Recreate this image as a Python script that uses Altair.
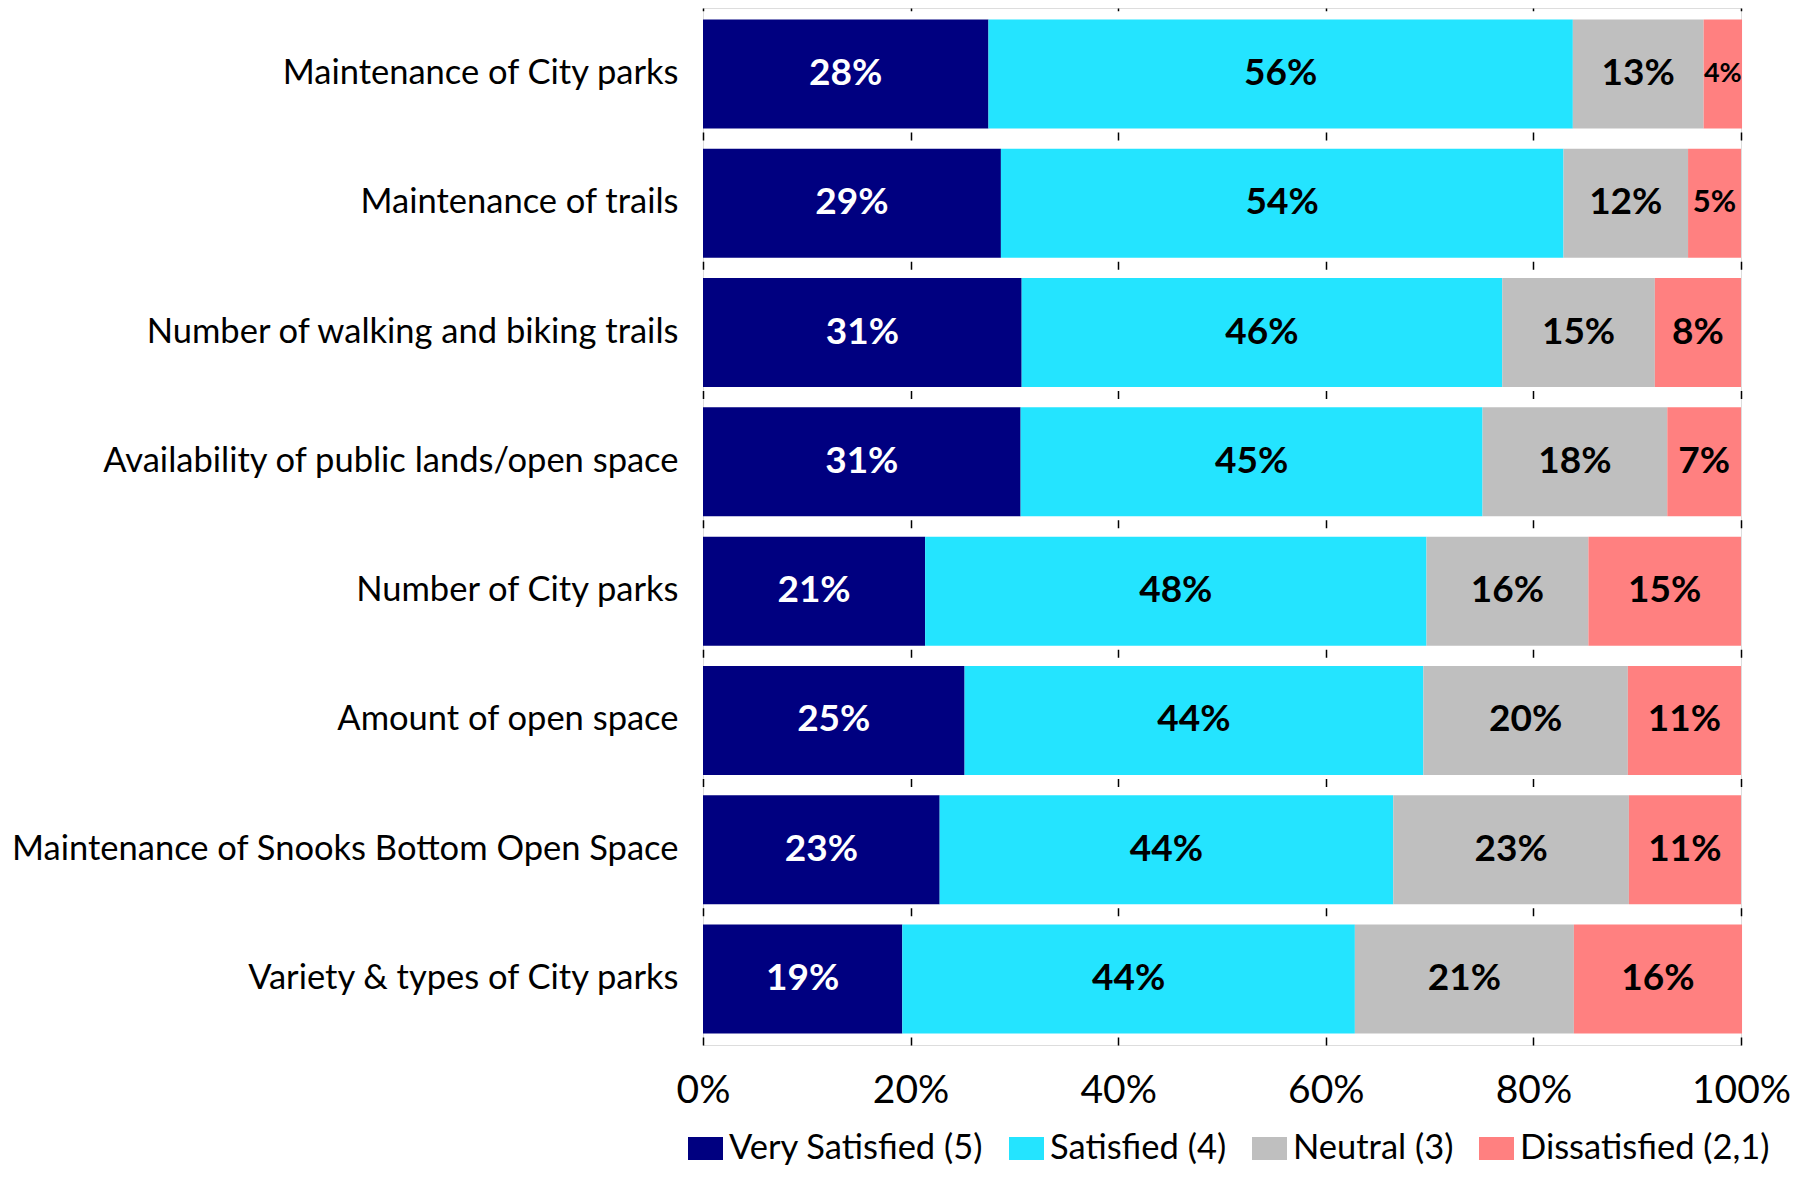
import altair as alt
import pandas as pd

categories = [
    "Maintenance of City parks\u00a0",
    "Maintenance of trails",
    "Number of walking and biking trails",
    "Availability of public lands/open space",
    "Number of City parks",
    "Amount of open space",
    "Maintenance of Snooks Bottom Open Space",
    "Variety & types of City parks",
]
levels = ["Very Satisfied (5)", "Satisfied (4)", "Neutral (3)", "Dissatisfied (2,1)"]
colors = ["#000080", "#24E4FF", "#BFBFBF", "#FF8080"]

very_satisfied = [27.5, 28.7, 30.7, 30.6, 21.4, 25.2, 22.8, 19.2]
satisfied = [56.3, 54.2, 46.3, 44.5, 48.3, 44.2, 43.7, 43.6]
neutral = [12.6, 12.0, 14.7, 17.8, 15.6, 19.7, 22.7, 21.1]
dissatisfied = [3.7, 5.1, 8.3, 7.1, 14.7, 10.9, 10.8, 16.2]

series = [very_satisfied, satisfied, neutral, dissatisfied]
rows = []
for li, (lev, vals) in enumerate(zip(levels, series)):
    for ci, (cat, v) in enumerate(zip(categories, vals)):
        rows.append({"category": cat, "level": lev, "order": li, "value": v,
                     "label": f"{int(v + 0.5)}%"})
df = pd.DataFrame(rows)

FONT = "Lato"
PLOT_W, PLOT_H = 1038, 1037
step = PLOT_H / (8 - 0.157 + 2 * 0.089)

y_enc = alt.Y("category:N", sort=categories, title=None,
              scale=alt.Scale(paddingInner=0.157, paddingOuter=0.089),
              axis=alt.Axis(labelFont=FONT, labelFontSize=34.5, labelColor="black",
                            labelPadding=25, ticks=False, domain=False, labelLimit=900))

bars = alt.Chart(df).mark_bar().encode(
    x=alt.X("value:Q", stack="zero", title=None,
            scale=alt.Scale(domain=[0, 100], nice=False),
            axis=alt.Axis(values=[0, 20, 40, 60, 80, 100], labelExpr="datum.value + '%'",
                          labelFont=FONT, labelFontSize=39, labelColor="black",
                          labelPadding=26, ticks=False, domain=False, labelFlush=False,
                          labelOverlap=False, grid=True, gridColor="black", gridWidth=1.5,
                          gridDash=[8, step - 8])),
    y=y_enc,
    color=alt.Color("level:N", sort=levels,
                    scale=alt.Scale(domain=levels, range=colors),
                    legend=alt.Legend(title=None, orient="none", direction="horizontal",
                                      legendX=-15, legendY=1123,
                                      symbolType="M-1,-0.66L1,-0.66L1,0.66L-1,0.66Z",
                                      symbolSize=1225, symbolStrokeWidth=0,
                                      symbolOpacity=1, labelLimit=600,
                                      labelFont=FONT, labelFontSize=34.5, labelColor="black",
                                      labelOffset=6, columnPadding=25, padding=0)),
    order=alt.Order("order:Q"),
)

texts = alt.Chart(df).transform_window(
    cum="sum(value)", groupby=["category"], sort=[alt.SortField("order")]
).transform_calculate(
    mid="datum.cum - datum.value / 2",
    fs="datum.value < 4.5 ? 27 : (datum.value < 6 ? 31 : 37)",
    tc="datum.order == 0 ? 'white' : 'black'",
).mark_text(font=FONT, fontWeight="bold", baseline="middle", align="center").encode(
    x=alt.X("mid:Q"),
    y=alt.Y("category:N", sort=categories),
    text="label:N",
    size=alt.Size("fs:Q", scale=None, legend=None),
    color=alt.Color("tc:N", scale=None, legend=None),
)

chart = alt.layer(bars, texts).properties(
    width=PLOT_W, height=PLOT_H,
    padding={"left": 695, "top": 0, "right": 50, "bottom": 126},
    autosize=alt.AutoSizeParams(type="none"),
).configure_view(stroke="black", strokeWidth=3).configure(background="white")

chart.save("out.html", embed_options={"renderer": "svg", "actions": False})
